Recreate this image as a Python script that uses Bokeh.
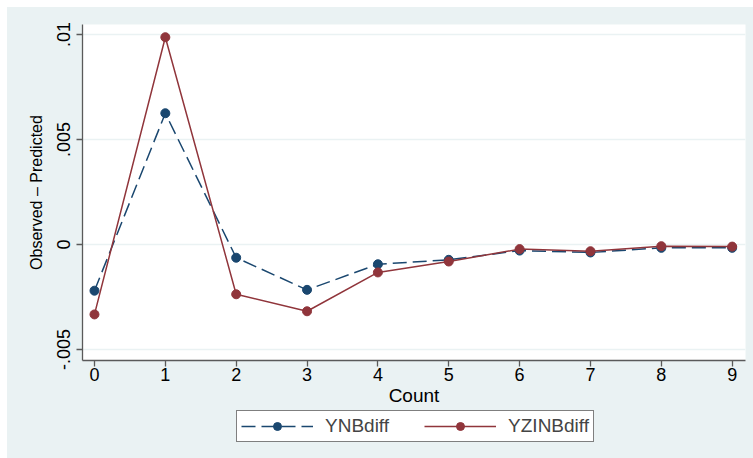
from bokeh.plotting import figure
from bokeh.layouts import column
from bokeh.models import Range1d, FixedTicker, Legend, LegendItem
from bokeh.embed import file_html
from bokeh.resources import INLINE

counts = [0, 1, 2, 3, 4, 5, 6, 7, 8, 9]
ynb_diff = [-0.00220, 0.00625, -0.00063, -0.00216, -0.00094, -0.00073,
            -0.00029, -0.00038, -0.00016, -0.00016]
yzinb_diff = [-0.00333, 0.00987, -0.00237, -0.00318, -0.00133, -0.00081,
              -0.00022, -0.00032, -0.00008, -0.00010]
y_ticks = [-0.005, 0.0, 0.005, 0.01]
y_tick_labels = ["-.005", "0", ".005", ".01"]
x_ticks = counts
series_names = ["YNBdiff", "YZINBdiff"]

BG = "#EAF2F3"
NAVY = "#1A476F"
MAROON = "#90353B"
FONT = "Liberation Sans"

p = figure(width=746, height=402, output_backend="svg", toolbar_location=None,
           x_range=Range1d(-0.169, 9.188), y_range=Range1d(-0.005524, 0.010476),
           min_border_left=75, min_border_right=8, min_border_top=17, min_border_bottom=49)
p.background_fill_color = "white"
p.border_fill_color = BG
p.outline_line_color = None

p.line(counts, ynb_diff, line_color=NAVY, line_width=1.5, line_dash="14 6")
p.scatter(counts, ynb_diff, size=9, fill_color=NAVY, line_color=NAVY)
p.line(counts, yzinb_diff, line_color=MAROON, line_width=1.5)
p.scatter(counts, yzinb_diff, size=9, fill_color=MAROON, line_color=MAROON)

p.xgrid.visible = False
p.ygrid.ticker = FixedTicker(ticks=y_ticks)
p.ygrid.grid_line_color = BG
p.ygrid.grid_line_width = 1.5

p.xaxis.ticker = FixedTicker(ticks=x_ticks)
p.yaxis.ticker = FixedTicker(ticks=y_ticks)
p.yaxis.major_label_overrides = {t: l for t, l in zip(y_ticks, y_tick_labels)}
p.yaxis.major_label_orientation = "vertical"

for ax in (p.xaxis[0], p.yaxis[0]):
    ax.axis_line_color = "#5a5a5a"
    ax.axis_line_width = 1.3
    ax.major_tick_line_color = "#5a5a5a"
    ax.major_tick_line_width = 1.3
    ax.major_tick_out = 6
    ax.major_tick_in = 0
    ax.minor_tick_out = 0
    ax.minor_tick_in = 0
    ax.major_label_text_font = FONT
    ax.major_label_text_font_size = "18px"
    ax.major_label_text_color = "black"
    ax.axis_label_text_font = FONT
    ax.axis_label_text_font_style = "normal"
    ax.axis_label_text_color = "black"

p.xaxis.axis_label = "Count"
p.xaxis.axis_label_text_font_size = "19px"
p.xaxis.major_label_standoff = 1
p.xaxis.axis_label_standoff = 1
p.yaxis.axis_label = "Observed – Predicted"
p.yaxis.axis_label_text_font_size = "16px"
p.yaxis.major_label_standoff = 6
p.yaxis.axis_label_standoff = 10

# legend strip below the chart; its frame is aligned with the chart's frame.
# The series are drawn here too, but outside this strip's y range, so only the
# legend swatches show.
q = figure(width=746, height=49, output_backend="svg", toolbar_location=None,
           x_range=Range1d(-0.169, 9.188), y_range=Range1d(1, 2),
           x_axis_location=None, y_axis_location=None,
           min_border_left=75, min_border_right=8, min_border_top=0, min_border_bottom=0)
q.background_fill_color = BG
q.border_fill_color = BG
q.outline_line_color = None
q.grid.visible = False
k1 = q.line(counts, ynb_diff, line_color=NAVY, line_width=1.5, line_dash="14 6")
k1s = q.scatter(counts, ynb_diff, size=9, fill_color=NAVY, line_color=NAVY)
k2 = q.line(counts, yzinb_diff, line_color=MAROON, line_width=1.5)
k2s = q.scatter(counts, yzinb_diff, size=9, fill_color=MAROON, line_color=MAROON)

legend = Legend(items=[LegendItem(label=series_names[0], renderers=[k1, k1s]),
                       LegendItem(label=series_names[1], renderers=[k2, k2s])],
                orientation="horizontal", location=(154, 16))
legend.border_line_color = "black"
legend.border_line_width = 1
legend.background_fill_color = "white"
legend.background_fill_alpha = 1
legend.label_text_font = FONT
legend.label_text_font_size = "19px"
legend.glyph_width = 72
legend.glyph_height = 20
legend.label_height = 20
legend.label_standoff = 12
legend.spacing = 35
legend.padding = 4
legend.margin = 0
q.add_layout(legend, "center")

layout = column(p, q, spacing=0, margin=(7, 0, 0, 7),
                styles={"background-color": BG})
open("out.html", "w").write(file_html(layout, INLINE))
